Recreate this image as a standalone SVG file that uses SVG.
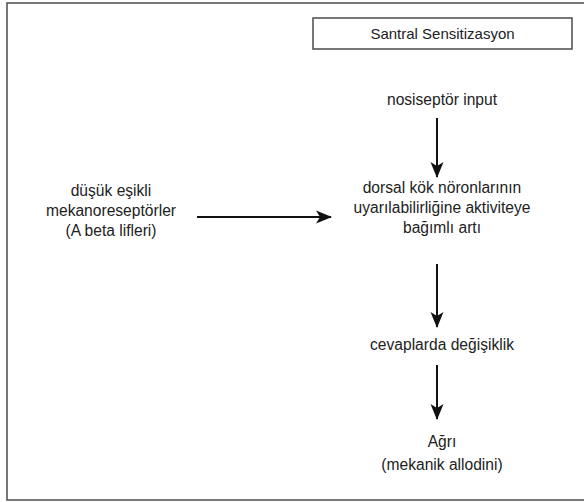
<svg xmlns="http://www.w3.org/2000/svg" width="584" height="502" viewBox="0 0 584 502">
  <style>
    .frame { fill: none; stroke: #555; stroke-width: 1.6; }
    .label { font-family: "Liberation Sans", Arial, sans-serif; font-size: 15.6px; fill: #222; text-anchor: middle; }
    .title { font-size: 15px; }
    .edge { stroke: #111; stroke-width: 2; fill: none; }
  </style>
  <defs>
    <marker id="head" markerUnits="userSpaceOnUse" markerWidth="16" markerHeight="16" viewBox="0 0 16 16" refX="15" refY="8" orient="auto">
      <path d="M0,1.5 L16,8 L0,14.5 L4,8 Z" fill="#111"/>
    </marker>
  </defs>
  <rect width="584" height="502" fill="#fff"/>
  <!-- outer frame (right side runs past the canvas) -->
  <rect class="frame" x="7" y="3" width="590" height="497"/>

  <g id="title">
    <rect class="frame" x="313" y="18" width="259" height="31"/>
    <text class="label title" x="442.5" y="39">Santral Sensitizasyon</text>
  </g>

  <g id="nociceptor">
    <text class="label" x="442" y="105">nosiseptör input</text>
  </g>

  <g id="dorsal-horn">
    <text class="label" x="442" y="193">dorsal kök nöronlarının</text>
    <text class="label" x="442" y="213">uyarılabilirliğine aktiviteye</text>
    <text class="label" x="442" y="233">bağımlı artı</text>
  </g>

  <g id="mechanoreceptors">
    <text class="label" x="111" y="196">düşük eşikli</text>
    <text class="label" x="111" y="216">mekanoreseptörler</text>
    <text class="label" x="111" y="236">(A beta lifleri)</text>
  </g>

  <g id="response-change">
    <text class="label" x="442" y="350">cevaplarda değişiklik</text>
  </g>

  <g id="pain">
    <text class="label" x="442" y="447">Ağrı</text>
    <text class="label" x="442" y="470">(mekanik allodini)</text>
  </g>

  <g id="connectors">
    <line class="edge" x1="437" y1="118" x2="437" y2="177" marker-end="url(#head)"/>
    <line class="edge" x1="197" y1="217" x2="331" y2="217" marker-end="url(#head)"/>
    <line class="edge" x1="437" y1="264" x2="437" y2="327" marker-end="url(#head)"/>
    <line class="edge" x1="437" y1="365" x2="437" y2="419" marker-end="url(#head)"/>
  </g>
</svg>
